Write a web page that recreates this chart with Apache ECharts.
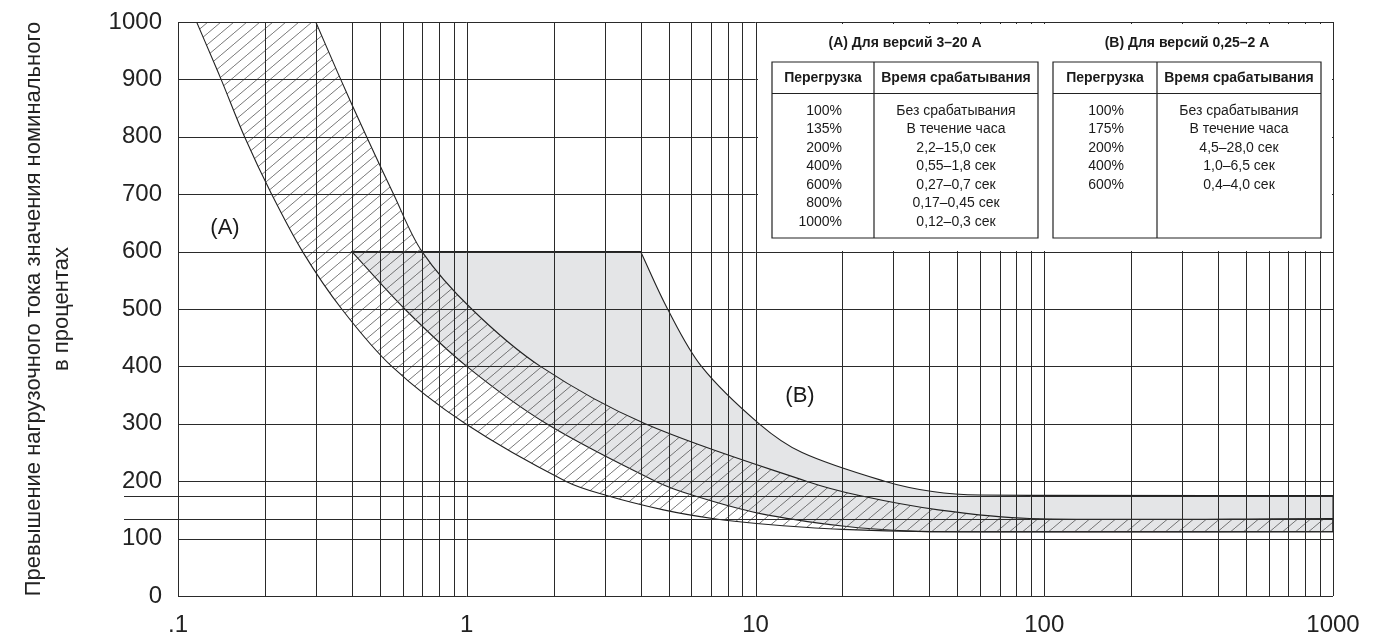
<!DOCTYPE html>
<html lang="ru" style="height: 100%">

<head>
  <meta charset="utf-8">
</head>

<body style="height: 100%; margin: 0">
  <div id="container" style="width: 1373px; height: 637px"></div>

  <script type="text/javascript" src="https://cdn.jsdelivr.net/npm/echarts@6/dist/echarts.min.js"></script>
  <script type="text/javascript">
    // curves: [seconds, percent]
    var aLower = [[0.116, 1000], [0.141, 900], [0.17, 800], [0.211, 700], [0.27, 600], [0.369, 500], [0.55, 400], [0.99, 300], [2.2, 200], [3.05, 175], [4.8, 150], [7.1, 135], [10.3, 126], [20, 116], [40, 112], [1000, 112]];
    var aUpper = [[0.3, 1000], [0.366, 900], [0.45, 800], [0.558, 700], [0.7, 600], [1.04, 500], [1.8, 400], [4.15, 300], [15, 200], [22.9, 175], [43, 150], [89, 135], [1000, 135]];
    var bLower = [[0.4, 600], [0.61, 500], [1.0, 400], [1.89, 300], [4.5, 200], [6.1, 175], [10.3, 144], [20, 122], [35, 113], [60, 112], [1000, 112]];
    var bUpper = [[4.0, 600], [4.96, 500], [6.5, 400], [10.3, 300], [14.5, 250], [28, 200], [41, 182], [60, 176], [1000, 175]];

    // grid lines
    var xDecades = [0.1, 1, 10, 100];
    var xSteps = [1, 2, 3, 4, 5, 6, 7, 8, 9];
    var yGrid = [0, 100, 200, 300, 400, 500, 600, 700, 800, 900, 1000];
    var yExtra = [135, 175];

    var yName = 'Превышение нагрузочного тока значения номинального\nв процентах';

    // tables
    var tableATitle = '(A) Для версий 3–20 А';
    var tableALoad = ['100%', '135%', '200%', '400%', '600%', '800%', '1000%'];
    var tableATime = ['Без срабатывания', 'В течение часа', '2,2–15,0 сек', '0,55–1,8 сек', '0,27–0,7 сек', '0,17–0,45 сек', '0,12–0,3 сек'];
    var tableBTitle = '(B) Для версий 0,25–2 А';
    var tableBLoad = ['100%', '175%', '200%', '400%', '600%'];
    var tableBTime = ['Без срабатывания', 'В течение часа', '4,5–28,0 сек', '1,0–6,5 сек', '0,4–4,0 сек'];
    var tableHead = ['Перегрузка', 'Время срабатывания'];

    var FONT = '"Liberation Sans Narrow", "Arial Narrow", "Liberation Sans", Arial, sans-serif';

    var xGrid = [];
    xDecades.forEach(function (d) {
      xSteps.forEach(function (s) { xGrid.push(+(d * s).toPrecision(3)); });
    });
    xGrid.push(1000);

    // hatch pattern
    var hatch = document.createElement('canvas');
    hatch.width = 13;
    hatch.height = 11;
    var hctx = hatch.getContext('2d');
    hctx.strokeStyle = '#555';
    hctx.lineWidth = 0.8;
    hctx.beginPath();
    hctx.moveTo(0, 11); hctx.lineTo(13, 0);
    hctx.moveTo(-13, 11); hctx.lineTo(0, 0);
    hctx.moveTo(13, 11); hctx.lineTo(26, 0);
    hctx.stroke();

    function smooth(px) {
      var n = px.length, d = '';
      var tan = px.map(function (p, i) {
        var a = px[Math.max(i - 1, 0)], b = px[Math.min(i + 1, n - 1)];
        var dx = b[0] - a[0], dy = b[1] - a[1], L = Math.hypot(dx, dy) || 1;
        return [dx / L, dy / L];
      });
      for (var i = 0; i < n - 1; i++) {
        var p = px[i], q = px[i + 1];
        var L = Math.hypot(q[0] - p[0], q[1] - p[1]) / 3;
        d += ' C' + (p[0] + tan[i][0] * L) + ' ' + (p[1] + tan[i][1] * L) + ' ' +
          (q[0] - tan[i + 1][0] * L) + ' ' + (q[1] - tan[i + 1][1] * L) + ' ' + q[0] + ' ' + q[1];
      }
      return d;
    }

    function bandPath(api, upper, lower) {
      var up = upper.map(function (p) { return api.coord(p); });
      var lo = lower.map(function (p) { return api.coord(p); }).reverse();
      return 'M' + up[0][0] + ' ' + up[0][1] + smooth(up) +
        ' L' + lo[0][0] + ' ' + lo[0][1] + smooth(lo) + ' Z';
    }

    function renderGrid(params, api) {
      var p0 = api.coord([0.1, 0]), p1 = api.coord([1000, 1000]);
      var children = [];
      var st = { stroke: '#2a2a2a', lineWidth: 1 };
      xGrid.forEach(function (v) {
        var x = Math.round(api.coord([v, 0])[0]) + 0.5;
        children.push({ type: 'line', shape: { x1: x, y1: p1[1], x2: x, y2: p0[1] }, style: st });
      });
      yGrid.forEach(function (v) {
        var y = Math.round(api.coord([0.1, v])[1]) + 0.5;
        children.push({ type: 'line', shape: { x1: p0[0], y1: y, x2: p1[0], y2: y }, style: st });
      });
      yExtra.forEach(function (v) {
        var y = Math.round(api.coord([0.1, v])[1]) + 0.5;
        children.push({ type: 'line', shape: { x1: p0[0] - 54, y1: y, x2: p1[0], y2: y }, style: st });
      });
      return { type: 'group', children: children };
    }

    function txt(x, y, text, size, align, weight) {
      return {
        type: 'text', x: x, y: y, z: 101,
        style: {
          text: text, font: (weight || 'normal') + ' ' + size + 'px ' + FONT,
          fill: '#1a1a1a', textAlign: align || 'center', textVerticalAlign: 'middle'
        }
      };
    }

    function makeTable(left, mid, right, title, loads, times) {
      var els = [];
      var top = 62, headY = 93.5, bottom = 238;
      els.push({ type: 'rect', z: 101, shape: { x: left, y: top, width: right - left, height: bottom - top }, style: { fill: '#fff', stroke: '#222', lineWidth: 1.2 } });
      els.push({ type: 'line', z: 101, shape: { x1: left, y1: headY, x2: right, y2: headY }, style: { stroke: '#222', lineWidth: 1.2 } });
      els.push({ type: 'line', z: 101, shape: { x1: mid, y1: top, x2: mid, y2: bottom }, style: { stroke: '#222', lineWidth: 1.2 } });
      els.push(txt((left + right) / 2, 43, title, 14, 'center', 'bold'));
      els.push(txt((left + mid) / 2, 78, tableHead[0], 14, 'center', 'bold'));
      els.push(txt((mid + right) / 2, 78, tableHead[1], 14, 'center', 'bold'));
      loads.forEach(function (l, i) {
        els.push(txt((left + mid) / 2 + 19, 111 + i * 18.5, l, 14, 'right'));
        els.push(txt((mid + right) / 2, 111 + i * 18.5, times[i], 14, 'center'));
      });
      return els;
    }

    var dom = document.getElementById('container');
    var myChart = echarts.init(dom, null, { renderer: 'canvas' });

    var elements = [
      { type: 'rect', z: 100, shape: { x: 758, y: 24, width: 574, height: 227 }, style: { fill: '#fff' } }
    ].concat(
      makeTable(772, 874, 1038, tableATitle, tableALoad, tableATime),
      makeTable(1053, 1157, 1321, tableBTitle, tableBLoad, tableBTime),
      [txt(225, 228, '(A)', 22), txt(800, 396, '(B)', 22)]
    );

    var option = {
      animation: false,
      grid: { left: 178, right: 40, top: 22, bottom: 39 },
      xAxis: {
        type: 'log', min: 0.1, max: 1000, logBase: 10,
        axisLine: { show: false }, axisTick: { show: false }, splitLine: { show: false },
        axisLabel: {
          margin: 17, fontSize: 24, color: '#222', fontFamily: FONT,
          formatter: function (v) { return Math.abs(v - 0.1) < 1e-9 ? '.1' : String(Math.round(v)); }
        }
      },
      yAxis: {
        type: 'value', min: 0, max: 1000, interval: 100,
        name: yName, nameLocation: 'middle', nameGap: 102, nameRotate: 90,
        nameTextStyle: { fontSize: 22, lineHeight: 28, color: '#222', fontFamily: FONT },
        axisLine: { show: false }, axisTick: { show: false }, splitLine: { show: false },
        axisLabel: {
          margin: 16, fontSize: 24, color: '#222', fontFamily: FONT,
          formatter: function (v) { return String(v); }
        }
      },
      graphic: { elements: elements },
      series: [
        {
          type: 'custom', name: '(B)', z: 1, clip: true, silent: true,
          data: [[1, 500]],
          renderItem: function (params, api) {
            return {
              type: 'path', shape: { pathData: bandPath(api, bUpper, bLower) },
              style: { fill: '#e4e5e7', stroke: '#222', lineWidth: 1.1 }
            };
          }
        },
        {
          type: 'custom', name: '(A)', z: 2, clip: true, silent: true,
          data: [[1, 500]],
          renderItem: function (params, api) {
            return {
              type: 'path', shape: { pathData: bandPath(api, aUpper, aLower) },
              style: { fill: { image: hatch, repeat: 'repeat' }, stroke: '#222', lineWidth: 1.1 }
            };
          }
        },
        {
          type: 'custom', name: 'grid', z: 3, clip: false, silent: true,
          data: [[0.1, 0]],
          renderItem: renderGrid
        }
      ]
    };

    myChart.setOption(option);
    window.addEventListener('resize', myChart.resize);
  </script>
</body>

</html>
